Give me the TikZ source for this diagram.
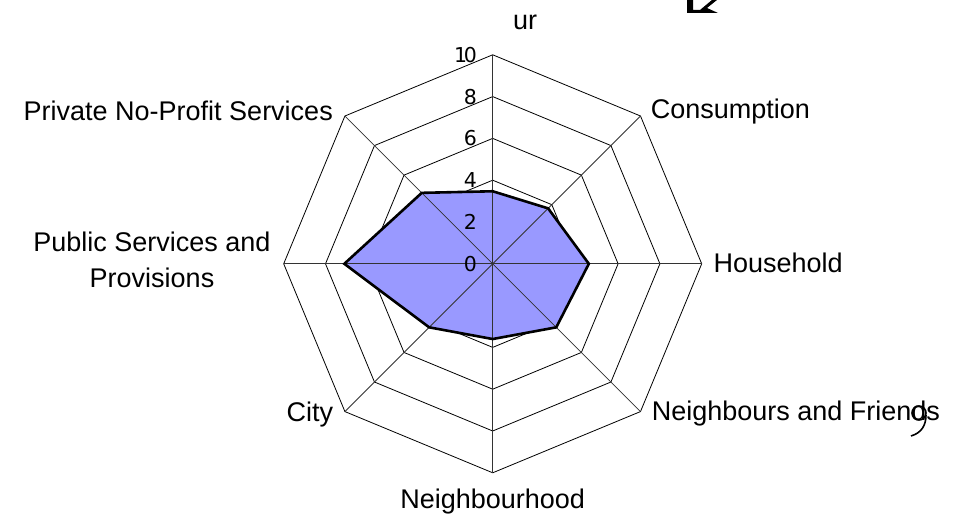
\documentclass[tikz,border=0pt]{standalone}
\usepackage{fontspec}
\setmainfont{Liberation Sans}
\newfontfamily\tickfont{DejaVu Sans}
\usetikzlibrary{calc}
\begin{document}
\begin{tikzpicture}[x=1pt,y=1pt,
  ring/.style={line width=0.8pt,black},
  spoke/.style={line width=0.8pt,black!80},
  datafill/.style={fill=radarblue},
  dataline/.style={line width=2.6pt,black,line join=miter},
  catlabel/.style={inner sep=0pt,font=\fontsize{27}{36}\selectfont},
  ticklabel/.style={inner sep=0pt,anchor=east,font=\tickfont\fontsize{20.5}{24}\selectfont},
  glyph/.style={fill=black},
  glyphline/.style={line width=1.6pt}]
\definecolor{radarblue}{RGB}{153,153,255}
\useasboundingbox (0,0) rectangle (964,526);
\fill[white] (0,0) rectangle (964,526);
\coordinate (O) at (492.7,262.2);
\def\R{20.9}
% rings
\foreach \k in {2,4,6,8,10}{
  \draw[ring] ($(O)+(90:\k*\R)$) \foreach \a in {45,0,-45,-90,-135,180,135}{ -- ($(O)+(\a:\k*\R)$)} -- cycle;
}
% data polygon fill
\path[datafill] ($(O)+(90:3.47*\R)$) -- ($(O)+(45:3.75*\R)$) -- ($(O)+(0:4.6*\R)$) -- ($(O)+(-45:4.3*\R)$)
  -- ($(O)+(-90:3.6*\R)$) -- ($(O)+(-135:4.3*\R)$) -- ($(O)+(180:7.1*\R)$) -- ($(O)+(135:4.8*\R)$) -- cycle;
% spokes
\foreach \a in {90,45,0,-45,-90,-135,180,135}{
  \draw[spoke] (O) -- ($(O)+(\a:10*\R)$);
}
% data outline
\draw[dataline] ($(O)+(90:3.47*\R)$) -- ($(O)+(45:3.75*\R)$) -- ($(O)+(0:4.6*\R)$) -- ($(O)+(-45:4.3*\R)$)
  -- ($(O)+(-90:3.6*\R)$) -- ($(O)+(-135:4.3*\R)$) -- ($(O)+(180:7.1*\R)$) -- ($(O)+(135:4.8*\R)$) -- cycle;
% tick labels
\node[ticklabel] (t0) at (477,262.2) {0};
\node[ticklabel] (t2) at (477,304.0) {2};
\node[ticklabel] (t4) at (477,345.8) {4};
\node[ticklabel] (t6) at (477,387.6) {6};
\node[ticklabel] (t8) at (477,429.4) {8};
\node[ticklabel] (t10) at (477,471.2) {1\kern-3.5pt0};
% category labels
\node[catlabel] (top) at (525,504) {ur};
\node[catlabel,anchor=west] (cons) at (650.7,414.3) {Consumption};
\node[catlabel,anchor=west] (house) at (713.3,263) {Household};
\node[catlabel,anchor=west] (neigh) at (651.7,112.7) {Neighbours and Friends};
\node[catlabel] (nhood) at (492.7,24.3) {Neighbourhood};
\node[catlabel,anchor=east] (city) at (333.3,111.7) {City};
\node[catlabel,align=center] (pub) at (152,266) {Public Services and\\Provisions};
\node[catlabel,anchor=east] (priv) at (333,415.3) {Private No-Profit Services};
% stray glyph fragments
\fill[glyph] (687,526) -- (693,526) -- (693,516) -- (700,516) -- (712,526) -- (717,526) -- (707,518) -- (718,513) -- (687,513) -- cycle;
\draw[glyphline] (919,113) circle[radius=7];
\draw[glyphline] (926,111) .. controls (926,100) and (921,93) .. (911,90);
\end{tikzpicture}
\end{document}
